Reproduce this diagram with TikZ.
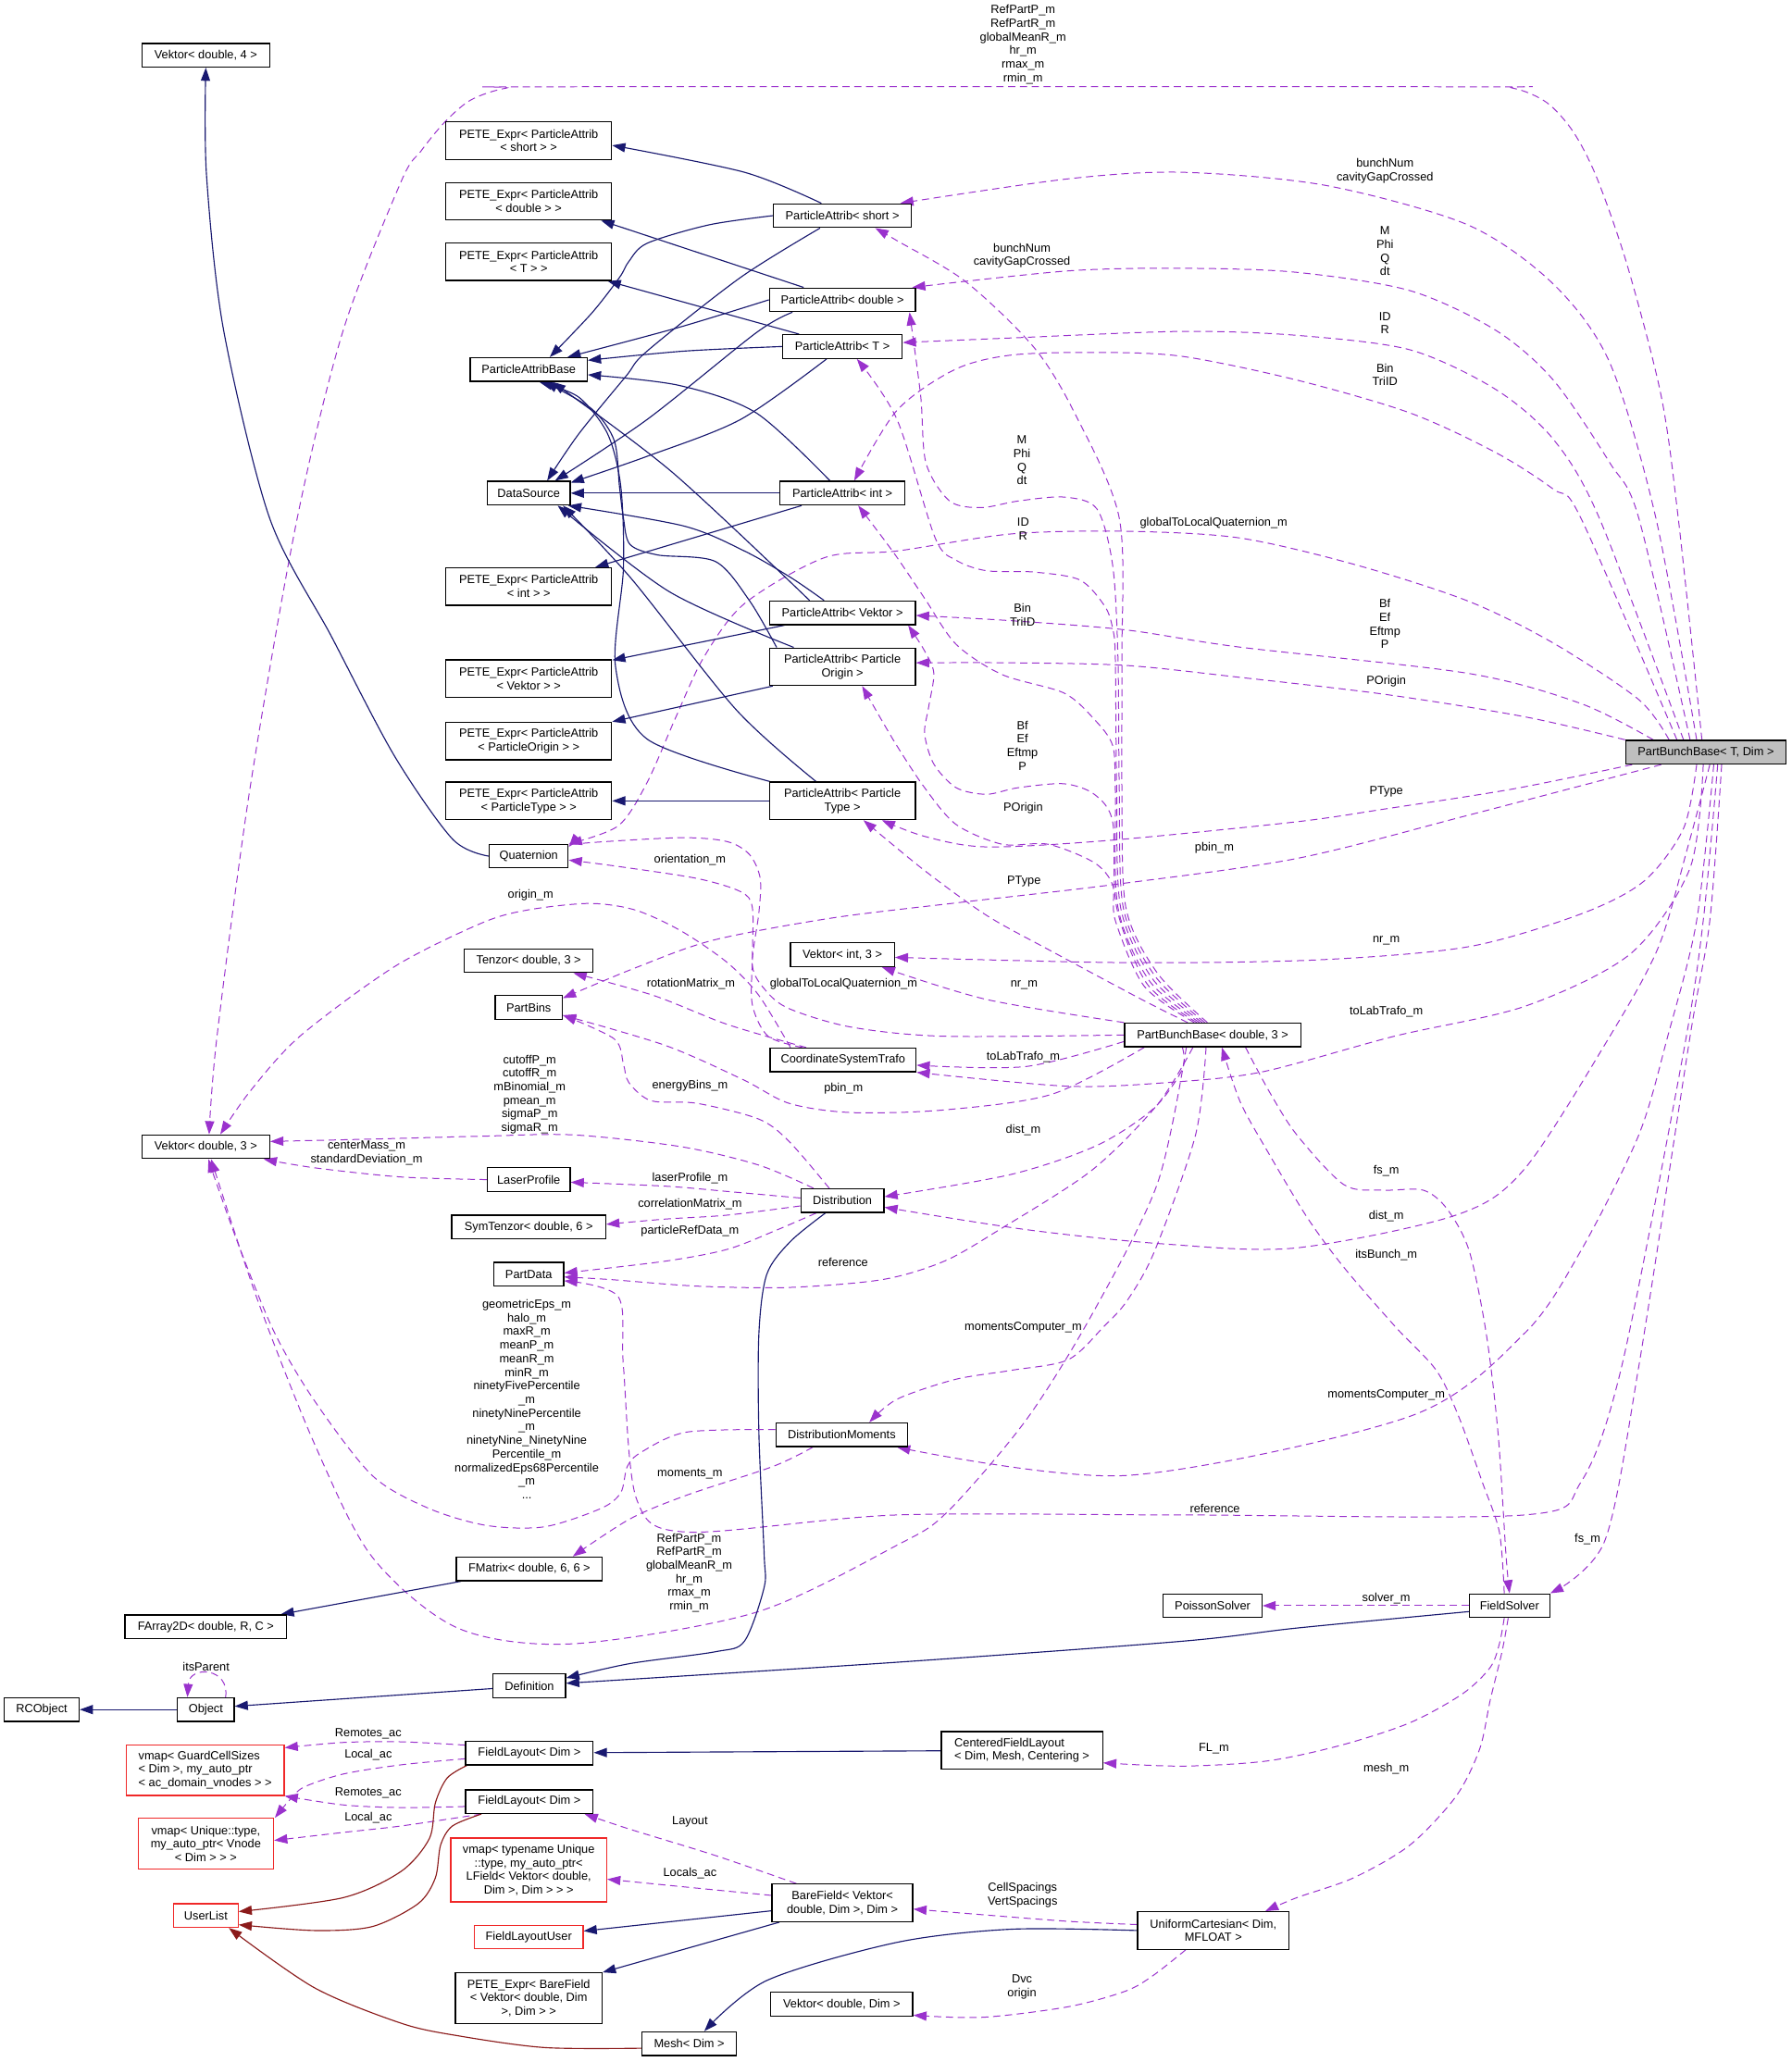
\documentclass[tikz,border=0pt]{standalone}
\usepackage{fontspec}
\newfontfamily\dxfont{Liberation Sans}
\usetikzlibrary{arrows.meta}
\definecolor{navy}{RGB}{25,25,112}
\definecolor{tmplred}{RGB}{139,26,26}
\definecolor{orchid}{RGB}{154,50,205}
\definecolor{undoc}{RGB}{240,40,40}
\definecolor{mainfill}{RGB}{191,191,191}
\pgfdeclarelayer{bg}
\pgfsetlayers{bg,main}
\tikzset{
  cls/.style={draw=black,line width=0.9pt,fill=white,font=\dxfont\fontsize{9}{10.35}\selectfont,align=center,inner xsep=2pt,inner ysep=2pt},
  undoccls/.style={cls,draw=undoc},
  sz/.style 2 args={minimum width=#1pt,minimum height=#2pt},
  lbl/.style={font=\dxfont\fontsize{9}{10.35}\selectfont,align=center,inner sep=0pt},
  inh/.style={draw=navy,line width=0.8pt,-{Triangle[length=10pt,width=7pt]}},
  tmpl/.style={draw=tmplred,line width=0.8pt,-{Triangle[length=10pt,width=7pt]}},
  member/.style={draw=orchid,line width=0.7pt,dash pattern=on 5.5pt off 3.5pt,-{Triangle[length=10pt,width=7pt]}},
}
\begin{document}
\begin{tikzpicture}[x=1pt,y=-1pt]
\useasboundingbox (0,0) rectangle (1362,1568);
% classes
\node[cls,sz={97}{18}] (V4) at (156.5,42) {Vektor< double, 4 >};
\node[cls,sz={126}{28.5}] (PEs) at (402,107) {PETE\_Expr< ParticleAttrib\\< short > >};
\node[cls,sz={126}{28.5}] (PEd) at (402,153) {PETE\_Expr< ParticleAttrib\\< double > >};
\node[cls,sz={126}{28.5}] (PET) at (402,199) {PETE\_Expr< ParticleAttrib\\< T > >};
\node[cls,sz={89}{18}] (PAB) at (402,281) {ParticleAttribBase};
\node[cls,sz={63}{18}] (DS) at (402,375) {DataSource};
\node[cls,sz={126}{28.5}] (PEi) at (402,446) {PETE\_Expr< ParticleAttrib\\< int > >};
\node[cls,sz={126}{28.5}] (PEV) at (402,516) {PETE\_Expr< ParticleAttrib\\< Vektor > >};
\node[cls,sz={126}{28.5}] (PEO) at (402,563.5) {PETE\_Expr< ParticleAttrib\\< ParticleOrigin > >};
\node[cls,sz={126}{28.5}] (PEP) at (402,609) {PETE\_Expr< ParticleAttrib\\< ParticleType > >};
\node[cls,sz={60}{18}] (Quat) at (402,651) {Quaternion};
\node[cls,sz={98}{18}] (Tenz) at (402,730.5) {Tenzor< double, 3 >};
\node[cls,sz={51}{18}] (PBins) at (402,766) {PartBins};
\node[cls,sz={97}{18}] (V3) at (156.5,872) {Vektor< double, 3 >};
\node[cls,sz={63}{18}] (Laser) at (402,897) {LaserProfile};
\node[cls,sz={117}{18}] (SymT) at (402,933) {SymTenzor< double, 6 >};
\node[cls,sz={53}{18}] (PData) at (402,969) {PartData};
\node[cls,sz={111}{18}] (FMat) at (402.5,1193) {FMatrix< double, 6, 6 >};
\node[cls,sz={123}{18}] (FArr) at (156.5,1237) {FArray2D< double, R, C >};
\node[cls,sz={57}{18}] (RCO) at (31.7,1300) {RCObject};
\node[cls,sz={43}{18}] (Obj) at (156.5,1300) {Object};
\node[cls,sz={55}{18}] (Def) at (402.5,1282) {Definition};
\node[undoccls,sz={120}{38.5},align=left] (VmG) at (156,1346) {vmap< GuardCellSizes\\< Dim >, my\_auto\_ptr\\< ac\_domain\_vnodes > >};
\node[undoccls,sz={103}{38.5}] (VmU) at (156.5,1402) {vmap< Unique::type,\\my\_auto\_ptr< Vnode\\< Dim > > >};
\node[undoccls,sz={49}{18}] (UL) at (156.5,1456.6) {UserList};
\node[cls,sz={97}{18}] (FLa) at (402.5,1333) {FieldLayout< Dim >};
\node[cls,sz={97}{18}] (FLb) at (402.5,1370) {FieldLayout< Dim >};
\node[undoccls,sz={118.5}{48.6}] (VmT) at (402,1422) {vmap< typename Unique\\::type, my\_auto\_ptr<\\LField< Vektor< double,\\Dim >, Dim > > >};
\node[undoccls,sz={82.6}{18}] (FLU) at (402,1473) {FieldLayoutUser};
\node[cls,sz={111.5}{38.5}] (PEBF) at (402,1519.5) {PETE\_Expr< BareField\\< Vektor< double, Dim\\>, Dim > >};
\node[cls,sz={71.5}{18}] (Mesh) at (524,1554) {Mesh< Dim >};
\node[cls,sz={107}{28.5}] (BF) at (640.5,1447) {BareField< Vektor<\\double, Dim >, Dim >};
\node[cls,sz={108}{18}] (VD) at (640,1524) {Vektor< double, Dim >};
\node[cls,sz={115}{28.5}] (UC) at (922.5,1468) {UniformCartesian< Dim,\\MFLOAT >};
\node[cls,sz={122.7}{28.5},align=left] (CFL) at (777,1331) {CenteredFieldLayout\\< Dim, Mesh, Centering >};
\node[cls,sz={75}{18}] (PS) at (922,1221) {PoissonSolver};
\node[cls,sz={61}{18}] (FS) at (1147.7,1221) {FieldSolver};
\node[cls,sz={100}{18}] (DistM) at (640,1091) {DistributionMoments};
\node[cls,sz={63}{18}] (Dist) at (640.5,913) {Distribution};
\node[cls,sz={111}{18}] (CST) at (641,806) {CoordinateSystemTrafo};
\node[cls,sz={79}{18}] (Vi3) at (640.5,726) {Vektor< int, 3 >};
\node[cls,sz={134}{18}] (PBBd) at (922,787) {PartBunchBase< double, 3 >};
\node[cls,fill=mainfill,sz={122}{18}] (PBB) at (1297,572) {PartBunchBase< T, Dim >};
\node[cls,sz={105}{18}] (PAs) at (640.5,164) {ParticleAttrib< short >};
\node[cls,sz={111}{18}] (PAd) at (640.5,228) {ParticleAttrib< double >};
\node[cls,sz={91}{18}] (PAT) at (640.5,263.5) {ParticleAttrib< T >};
\node[cls,sz={95}{18}] (PAi) at (640.5,375) {ParticleAttrib< int >};
\node[cls,sz={111}{18}] (PAV) at (640.5,466) {ParticleAttrib< Vektor >};
\node[cls,sz={111}{28.5}] (PAO) at (640.5,507) {ParticleAttrib< Particle\\Origin >};
\node[cls,sz={111}{28.5}] (PAP) at (640.5,609) {ParticleAttrib< Particle\\Type >};
% edge labels
\node[lbl] (l1) at (777.8,33.9) {RefPartP\_m\\RefPartR\_m\\globalMeanR\_m\\hr\_m\\rmax\_m\\rmin\_m};
\node[lbl] (l2) at (1053,130) {bunchNum\\cavityGapCrossed};
\node[lbl] (l3) at (1053,191) {M\\Phi\\Q\\dt};
\node[lbl] (l4) at (1053,245.6) {ID\\R};
\node[lbl] (l5) at (1053,285) {Bin\\TriID};
\node[lbl] (l6) at (922.8,397.7) {globalToLocalQuaternion\_m};
\node[lbl] (l7) at (1053,474.4) {Bf\\Ef\\Eftmp\\P};
\node[lbl] (l8) at (1054,518.4) {POrigin};
\node[lbl] (l9) at (1054,602) {PType};
\node[lbl] (l10) at (923.3,645) {pbin\_m};
\node[lbl] (l11) at (1054,715) {nr\_m};
\node[lbl] (l12) at (1054,769.6) {toLabTrafo\_m};
\node[lbl] (l13) at (1054,924.5) {dist\_m};
\node[lbl] (l14) at (1054,1060.6) {momentsComputer\_m};
\node[lbl] (l15) at (923.7,1146.8) {reference};
\node[lbl] (l16) at (1207,1170.6) {fs\_m};
\node[lbl] (m1) at (524,1196) {RefPartP\_m\\RefPartR\_m\\globalMeanR\_m\\hr\_m\\rmax\_m\\rmin\_m};
\node[lbl] (m2) at (777,194.4) {bunchNum\\cavityGapCrossed};
\node[lbl] (m3) at (777,350) {M\\Phi\\Q\\dt};
\node[lbl] (m4) at (777.9,402.3) {ID\\R};
\node[lbl] (m5) at (777.4,467.6) {Bin\\TriID};
\node[lbl] (m6) at (641.4,748) {globalToLocalQuaternion\_m};
\node[lbl] (m7) at (777.4,567) {Bf\\Ef\\Eftmp\\P};
\node[lbl] (m8) at (777.9,614.5) {POrigin};
\node[lbl] (m9) at (778.6,670) {PType};
\node[lbl] (m10) at (641.3,827.6) {pbin\_m};
\node[lbl] (m11) at (778.6,749) {nr\_m};
\node[lbl] (m12) at (778,804) {toLabTrafo\_m};
\node[lbl] (m13) at (778,859.6) {dist\_m};
\node[lbl] (m14) at (778,1009.6) {momentsComputer\_m};
\node[lbl] (m15) at (641,959.6) {reference};
\node[lbl] (m16) at (1054,890.5) {fs\_m};
\node[lbl] (f1) at (1054,954.5) {itsBunch\_m};
\node[lbl] (f2) at (1054,1215.6) {solver\_m};
\node[lbl] (f3) at (923,1329.5) {FL\_m};
\node[lbl] (f4) at (1054,1345) {mesh\_m};
\node[lbl] (u1) at (777.5,1441) {CellSpacings\\VertSpacings};
\node[lbl] (u2) at (777,1511) {Dvc\\origin};
\node[lbl] (b1) at (524.6,1424.7) {Locals\_ac};
\node[lbl] (b2) at (524.6,1385) {Layout};
\node[lbl] (r1) at (280,1318.5) {Remotes\_ac};
\node[lbl] (r2) at (280,1334.4) {Local\_ac};
\node[lbl] (r3) at (280,1363.5) {Remotes\_ac};
\node[lbl] (r4) at (280,1382.4) {Local\_ac};
\node[lbl] (o1) at (156.7,1267.5) {itsParent};
\node[lbl] (c1) at (403.4,680.8) {origin\_m};
\node[lbl] (c2) at (524.6,653.6) {orientation\_m};
\node[lbl] (c3) at (525.3,748) {rotationMatrix\_m};
\node[lbl] (d1) at (402.7,832.2) {cutoffP\_m\\cutoffR\_m\\mBinomial\_m\\pmean\_m\\sigmaP\_m\\sigmaR\_m};
\node[lbl] (d2) at (524.6,826) {energyBins\_m};
\node[lbl] (d3) at (524.6,896) {laserProfile\_m};
\node[lbl] (d4) at (524.6,916) {correlationMatrix\_m};
\node[lbl] (d5) at (524.6,936) {particleRefData\_m};
\node[lbl] (d6) at (278.7,877) {centerMass\_m\\standardDeviation\_m};
\node[lbl] (d7) at (400.5,1064) {geometricEps\_m\\halo\_m\\maxR\_m\\meanP\_m\\meanR\_m\\minR\_m\\ninetyFivePercentile\\\_m\\ninetyNinePercentile\\\_m\\ninetyNine\_NinetyNine\\Percentile\_m\\normalizedEps68Percentile\\\_m\\...};
\node[lbl] (d8) at (524.6,1120.7) {moments\_m};
\begin{pgfonlayer}{bg}
\fill[white] (0,0) rectangle (1362,1568);
% PartBunchBase< T, Dim >
\draw[member] plot[smooth] coordinates {([xshift=-3pt]PBB.north) (1276,394) (1263,301) (1237,201) (1214,135) (1196,100) (1176,78) (1150,67) (1110,66) (420,66) (385,67) (358,76) (338,93) (320,115) (305,138) (261,251) (226,394) (190,600) (165,788) ([xshift=2.5pt]V3.north)};
\draw[member] plot[smooth] coordinates {([xshift=-7pt]PBB.north) (1259,394) (1224,276) (1181,216) (1116,171) (1008,141) (899,131) (812,136) ([xshift=44pt]PAs.north)};
\draw[member] plot[smooth] coordinates {([xshift=-12pt]PBB.north) (1246,394) (1224,352) (1181,289) (1137,251) (1072,221) (985,207) (899,204) (812,206) ([xshift=53pt]PAd.north)};
\draw[member] plot[smooth] coordinates {([xshift=-17pt]PBB.north) (1216,394) (1181,334) (1137,296) (1072,266) (986,255) (899,252) (769,257) ([yshift=3pt]PAT.east)};
\draw[member] plot[smooth] coordinates {([xshift=-22pt]PBB.north) (1202,394) (1181,372) (1137,344) (1072,314) (986,289) (899,271) (834,268) (769,270) (726,281) (682,312) ([xshift=9pt]PAi.north)};
\draw[member] plot[smooth] coordinates {([xshift=-28pt]PBB.north) (1246,532) (1181,489) (1116,457) (1029,429) (942,409) (856,404) (769,406) (682,419) (627,424) (566,459) (535,500) (514,545) (492,595) (470,628) (Quat.north east)};
\draw[member] plot[smooth] coordinates {([xshift=-40pt]PBB.north) (1202,535) (1116,512) (942,492) (856,479) (769,472) ([yshift=-2pt]PAV.east)};
\draw[member] plot[smooth] coordinates {(PBB.north west) (1159,545) (1053,528) (942,515) (856,506) (769,504) ([yshift=3pt]PAO.east)};
\draw[member] plot[smooth] coordinates {([xshift=-56pt]PBB.south) (1150,600) (1054,615) (985,625) (844,639) (750,644) (703,636) ([xshift=30pt]PAP.south)};
\draw[member] plot[smooth] coordinates {([xshift=-34pt]PBB.south) (1116,620) (985,653) (844,673) (732,686) (633,698) (542,715) (483,736) ([yshift=7pt]PBins.east)};
\draw[member] plot[smooth] coordinates {([xshift=-7pt]PBB.south) (1280,630) (1250,670) (1202,695) (1116,720) (1000,730) (855,732) ([yshift=-2pt]Vi3.east)};
\draw[member] plot[smooth] coordinates {([xshift=-2pt]PBB.south) (1285,660) (1240,725) (1160,765) (1060,788) (960,815) (890,823) (812,826) (CST.south east)};
\draw[member] plot[smooth] coordinates {([xshift=3pt]PBB.south) (1283,645) (1261,720) (1224,788) (1159,889) (1107,924) (985,949) (886,946) (780,935) ([yshift=-5pt]Dist.east)};
\draw[member] plot[smooth] coordinates {([xshift=6pt]PBB.south) (1290,700) (1268,788) (1246,863) (1202,951) (1159,1014) (1072,1077) (856,1122) ([xshift=42pt]DistM.south)};
\draw[member] plot[smooth] coordinates {([xshift=9pt]PBB.south) (1295,700) (1280,800) (1233,1039) (1202,1127) (1159,1152) (900,1152) (682,1152) (522,1165) (484,1140) (474,1039) (470,986) ([yshift=-5pt]PData.east)};
\draw[member] plot[smooth] coordinates {([xshift=12pt]PBB.south) (1300,700) (1285,788) (1246,1039) (1220,1172) (FS.north east)};
% PartBunchBase< double, 3 >
\draw[member] plot[smooth] coordinates {([xshift=-4pt]PBBd.north) (880,740) (856,690) (853,600) (853,500) (851,394) (817,314) (786,264) (734,214) (682,183) ([xshift=25pt]PAs.south)};
\draw[member] plot[smooth] coordinates {([xshift=-6pt]PBBd.north) (878,742) (854,690) (851,600) (850,500) (846,430) (834,387) (809,378) (774,381) (746,386) (722,381) (704,352) (700,301) ([xshift=51pt]PAd.south)};
\draw[member] plot[smooth] coordinates {([xshift=-8pt]PBBd.north) (876,744) (852,690) (849,600) (848,500) (846,478) (840,461) (821,441) (786,435) (750,434) (727,426) (711,409) (682,319) ([xshift=11pt]PAT.south)};
\draw[member] plot[smooth] coordinates {([xshift=-10pt]PBBd.north) (874,746) (850,690) (848,600) (846,567) (832,547) (809,527) (762,513) (727,490) (703,455) (680,421) ([xshift=12pt]PAi.south)};
\draw[member] plot[smooth] coordinates {([xshift=-12pt]PBBd.north) (872,748) (849,690) (846,625) (832,604) (809,596) (774,599) (750,604) (727,599) (710,581) (703,558) (706,538) (710,512) (703,495) ([xshift=50pt]PAV.south)};
\draw[member] plot[smooth] coordinates {([xshift=-14pt]PBBd.north) (870,750) (848,700) (846,673) (832,656) (797,642) (762,642) (727,627) (703,599) (680,564) ([xshift=15pt]PAO.south)};
\draw[member] plot[smooth] coordinates {([xshift=-19pt]PBBd.north) (868,760) (797,722) (750,696) (703,662) ([xshift=16pt]PAP.south)};
\draw[member] plot[smooth] coordinates {(PBBd.north west) (750,760) ([xshift=30pt]Vi3.south)};
\draw[member] plot[smooth] coordinates {(PBBd.west) (718,788) (647,781) (600,767) (582,753) (572,734) (577,694) (578,668) (570,650) (553,640) (518,637) (446,641) ([yshift=7pt]Quat.east)};
\draw[member] plot[smooth] coordinates {([yshift=-5pt]PBBd.west) (780,811) ([yshift=-4pt]CST.east)};
\draw[member] plot[smooth] coordinates {([xshift=-52pt]PBBd.south) (800,832) (718,844) (647,846) (600,839) (565,821) (506,795) ([yshift=-6pt]PBins.east)};
\draw[member] plot[smooth] coordinates {([xshift=-23pt]PBBd.south) (899,813) (877,843) (834,871) (769,893) ([yshift=3pt]Dist.east)};
\draw[member] plot[smooth] coordinates {([xshift=-5pt]PBBd.south) (909,863) (878,951) (857,989) (839,1009) (812,1034) (769,1042) (726,1049) (682,1064) ([xshift=21pt]DistM.north)};
\draw[member] plot[smooth] coordinates {([xshift=-15pt]PBBd.south) (880,840) (830,890) (760,935) (718,959) (671,973) (600,979) (530,978) (464,973) ([yshift=-2pt]PData.east)};
\draw[member] plot[smooth] coordinates {([xshift=-20pt]PBBd.south) (880,900) (830,1000) (780,1080) (720,1150) (682,1175) (575,1226) (435,1250) (348,1238) (283,1184) (240,1100) (196,989) ([xshift=4pt]V3.south)};
\draw[member] plot[smooth] coordinates {([xshift=25pt]PBBd.south) (965,830) (986,863) (1022,901) (1052,905) (1082,905) (1100,919) (1117,951) (1130,1014) (1139,1090) (1145,1182) (FS.north)};
% FieldSolver
\draw[member] plot[smooth] coordinates {([xshift=-4pt]FS.north) (1140,1165) (1127,1127) (1109,1077) (1092,1042) (1061,1009) (1022,964) (994,926) (964,876) (943,838) ([xshift=7pt]PBBd.south)};
\draw[member] (FS) -- (PS);
\draw[member] plot[smooth] coordinates {([xshift=-4pt]FS.south) (1140,1250) (1133,1268) (1112,1288) (1072,1310) (1020,1327) (964,1339) (899,1343) ([yshift=-9.5pt]CFL.east)};
\draw[member] plot[smooth] coordinates {([xshift=-1pt]FS.south) (1142,1256) (1133,1293) (1125,1330) (1107,1366) (1072,1403) (1029,1428) (986,1443) ([xshift=39.5pt]UC.north)};
\draw[inh] plot[smooth] coordinates {([yshift=-4.5pt]FS.west) (986,1238) (899,1248) (682,1264) ([yshift=2pt]Def.east)};
% Distribution and friends
\draw[member] plot[smooth] coordinates {([xshift=-22pt]Dist.north) (577,886) (518,872) (436,863) (366,864) (290,866) ([yshift=4pt]V3.east)};
\draw[member] plot[smooth] coordinates {(Laser.west) (305,895) (239,888) ([xshift=44pt]V3.south)};
\draw[member] plot[smooth] coordinates {([yshift=2pt]Dist.west) (553,906) (506,902) ([yshift=-2pt]Laser.east)};
\draw[member] plot[smooth] coordinates {([yshift=-4pt]Dist.west) (553,924) (506,927) ([yshift=2pt]SymT.east)};
\draw[member] plot[smooth] coordinates {([xshift=-20pt]Dist.south) (589,936) (553,950) (506,959) ([yshift=1pt]PData.east)};
\draw[member] plot[smooth] coordinates {([xshift=-10pt]Dist.north) (600,868) (577,851) (530,839) (495,837) (478,823) (474,809) (467,790) ([yshift=-6pt]PBins.east)};
\draw[inh] plot[smooth] coordinates {([xshift=-13pt]Dist.south) (601,944) (583,969) (577,1014) (577,1090) (581,1182) (581,1207) (566,1248) (544,1256) (479,1265) ([yshift=6pt]Def.east)};
\draw[member] plot[smooth] coordinates {([yshift=4pt]DistM.west) (522,1089) (488,1104) (477,1115) (472,1135) (457,1147) (414,1161) (370,1160) (326,1147) (283,1122) (239,1065) (209,1014) (183,951) (165,901) ([xshift=2pt]V3.south)};
\draw[member] plot[smooth] coordinates {([xshift=-22pt]DistM.south) (588,1115) (522,1137) (479,1155) ([xshift=33pt]FMat.north)};
% CoordinateSystemTrafo
\draw[member] plot[smooth] coordinates {([xshift=-40pt]CST.north) (577,757) (553,732) (518,708) (483,692) (448,687) (401,692) (366,702) (300,735) (228,788) (190,830) ([xshift=11pt]V3.north)};
\draw[member] plot[smooth] coordinates {([xshift=-31pt]CST.north) (584,788) (572,764) (572,729) (572,690) (563,678) (530,668) (471,659) ([yshift=-3pt]Quat.east)};
\draw[member] plot[smooth] coordinates {([xshift=-28pt]CST.north) (553,779) (497,757) ([xshift=34pt]Tenz.south)};
% fields and layouts
\draw[member] plot[smooth] coordinates {([yshift=4.5pt]UC.west) (812,1461) (747,1456) ([yshift=-4.7pt]BF.east)};
\draw[inh] plot[smooth] coordinates {(UC.west) (769,1467) (682,1477) (583,1506) ([xshift=11.5pt]Mesh.north)};
\draw[member] plot[smooth] coordinates {([xshift=-21pt]UC.south) (877,1502) (856,1514) (812,1526) (747,1534) ([yshift=-8.4pt]VD.east)};
\draw[member] plot[smooth] coordinates {([yshift=5.7pt]BF.west) (522,1435) ([yshift=-7pt]VmT.east)};
\draw[member] plot[smooth] coordinates {([xshift=-35pt]BF.north) (544,1411) (479,1391) ([xshift=42pt]FLb.south)};
\draw[inh] ([yshift=-6pt]BF.west) -- ([yshift=4.6pt]FLU.east);
\draw[inh] ([xshift=-48pt]BF.south) -- (PEBF.north east);
\draw[inh] (CFL) -- (FLa);
\draw[member] plot[smooth] coordinates {([yshift=6pt]FLa.west) (305,1324.5) (261,1325) ([yshift=17pt]VmG.east)};
\draw[member] plot[smooth] coordinates {([yshift=-4.4pt]FLa.west) (305,1342) (261,1349) (231,1359) (220,1369) ([xshift=52.5pt]VmU.north)};
\draw[member] plot[smooth] coordinates {([yshift=-3.7pt]FLb.west) (305,1374.5) (261,1372.5) (VmG.south east)};
\draw[member] plot[smooth] coordinates {([xshift=-36.5pt]FLb.south) (305,1388.5) (261,1393.4) ([yshift=2.5pt]VmU.east)};
\draw[tmpl] plot[smooth] coordinates {([xshift=-47.5pt]FLa.south) (340,1352) (331,1371) (326.5,1398) (305,1423) (261,1443) ([yshift=3pt]UL.east)};
\draw[tmpl] plot[smooth] coordinates {([xshift=-36.5pt]FLb.south) (344,1388.5) (335,1403) (331,1428) (318,1447.5) (283,1465) (239,1468) ([yshift=-7pt]UL.east)};
\draw[tmpl] plot[smooth] coordinates {([yshift=-3.5pt]Mesh.west) (414,1557) (348,1548) (305,1538.5) (239,1511.5) ([xshift=17.5pt]UL.south)};
% object chain
\draw[member] ([xshift=15pt]Obj.north) .. controls (175,1268) and (144,1266) .. ([xshift=-14pt]Obj.north);
\draw[inh] ([yshift=-2pt]Def.west) -- ([yshift=2.5pt]Obj.east);
\draw[inh] (Obj) -- (RCO);
\draw[inh] ([xshift=-52pt]FMat.south) -- ([xshift=57pt]FArr.north);
\draw[inh] plot[smooth] coordinates {(Quat.west) (344,638) (300,575) (252,484) (205,394) (170,251) (157,133) (V4.south)};
% particle attributes
\draw[inh] plot[smooth] coordinates {([xshift=-16pt]PAs.north) (566,131) ([yshift=-3.5pt]PEs.east)};
\draw[inh] plot[smooth] coordinates {(PAs.west) (539,171) (492,185) (478,199) (471,211) (450,238) ([xshift=16pt]PAB.north)};
\draw[inh] plot[smooth] coordinates {([xshift=-17pt]PAs.south) (563,211) (492,267) (476,286) (440,330) ([xshift=14pt]DS.north)};
\draw[inh] ([xshift=-29.5pt]PAd.north) -- ([xshift=55pt]PEd.south);
\draw[inh] plot[smooth] coordinates {(PAd.west) (516,249) ([xshift=29.5pt]PAB.north)};
\draw[inh] plot[smooth] coordinates {([xshift=-38pt]PAd.south) (575,253) (492,319) ([xshift=20pt]DS.north)};
\draw[inh] ([xshift=-33pt]PAT.north) -- ([xshift=60pt]PET.south);
\draw[inh] plot[smooth] coordinates {(PAT.west) (520,267) ([yshift=7pt]PAB.east)};
\draw[inh] plot[smooth] coordinates {([xshift=-12pt]PAT.south) (563,319) (492,347) ([yshift=8pt]DS.east)};
\draw[inh] (PAi) -- (DS);
\draw[inh] plot[smooth] coordinates {([xshift=-9.5pt]PAi.north) (575,314) (516,293) ([yshift=-4pt]PAB.east)};
\draw[inh] ([xshift=-31pt]PAi.south) -- ([xshift=50.6pt]PEi.north);
\draw[inh] plot[smooth] coordinates {([xshift=-25pt]PAV.north) (511,359) ([xshift=18pt]PAB.south)};
\draw[inh] plot[smooth] coordinates {([xshift=-14pt]PAV.north) (601,439) (566,419) (520,400) ([xshift=30pt]DS.south)};
\draw[inh] ([xshift=-44pt]PAV.south) -- ([yshift=14pt]PEV.east);
\draw[inh] plot[smooth] coordinates {([xshift=-50pt]PAO.north) (570,457) (544,427) (500,422) (479,414) (474,394) (471,370) (467,335) (450,311) ([xshift=12pt]PAB.south)};
\draw[inh] plot[smooth] coordinates {([xshift=-37pt]PAO.north) (509,450) ([xshift=22pt]DS.south)};
\draw[inh] ([xshift=-53pt]PAO.south) -- (PEO.north east);
\draw[inh] plot[smooth] coordinates {([xshift=-55pt]PAP.north) (492,562) (468,507) (474,432) (472,370) (462,330) (440,302) ([xshift=8pt]PAB.south)};
\draw[inh] plot[smooth] coordinates {([xshift=-20pt]PAP.north) (560,540) (480,440) ([xshift=26pt]DS.south)};
\draw[inh] (PAP) -- (PEP);
\end{pgfonlayer}
\end{tikzpicture}
\end{document}
